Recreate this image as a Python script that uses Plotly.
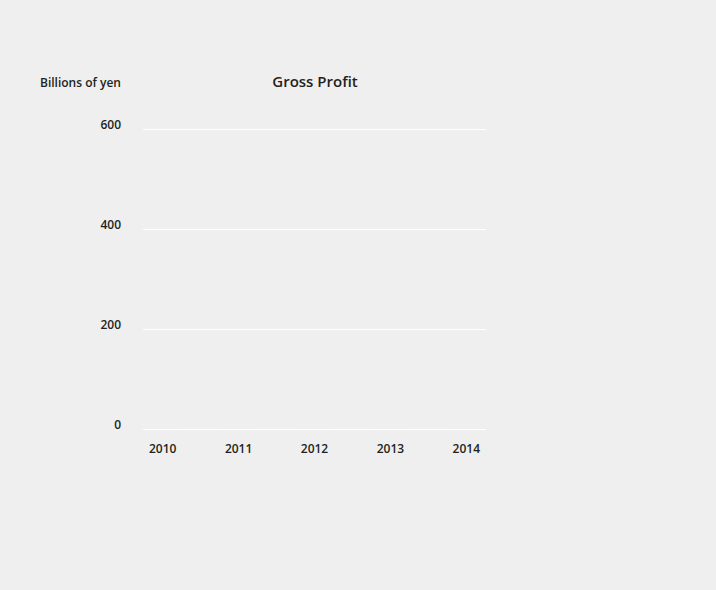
import plotly.graph_objects as go

# Data (no bars are visible in the reference)
years = ["2010", "2011", "2012", "2013", "2014"]
gross_profit = [0, 0, 0, 0, 0]
y_ticks = [0, 200, 400, 600]

bg = "#efefef"
txt = "#231f20"
semi = dict(family="Open Sans", color=txt, weight=600)

fig = go.Figure()
fig.add_trace(go.Bar(x=years, y=gross_profit, marker_color="#1f5fa8", width=0.5))

fig.update_layout(
    width=716, height=590,
    paper_bgcolor=bg, plot_bgcolor=bg,
    margin=dict(l=143, r=230, t=126, b=161),
    showlegend=False,
    font=dict(family="Open Sans", color=txt, size=12),
    title=dict(text="Gross Profit", x=315 / 716, xanchor="center",
               y=1 - 82 / 590, yanchor="middle",
               font=dict(size=15, **semi)),
)
fig.update_xaxes(type="category", range=[-0.26, 4.26], showgrid=False,
                 showline=False, zeroline=False, ticks="",
                 tickfont=dict(size=12, **semi), ticklabelstandoff=11)
fig.update_yaxes(range=[0, 606], tickvals=y_ticks,
                 showgrid=True, gridcolor="white", gridwidth=1,
                 zeroline=True, zerolinecolor="white", zerolinewidth=1,
                 showline=False, ticks="", ticklabelstandoff=21,
                 ticklabelshift=-4,
                 tickfont=dict(size=12, **semi))

fig.add_annotation(text="Billions of yen", xref="paper", yref="paper",
                   x=(123 - 143) / 343, y=(429 - 83) / 303,
                   xanchor="right", yanchor="middle", showarrow=False,
                   font=dict(size=12, **semi))

fig.write_html("out.html", config={"displayModeBar": False},
               post_script="document.body.style.margin='0';")
